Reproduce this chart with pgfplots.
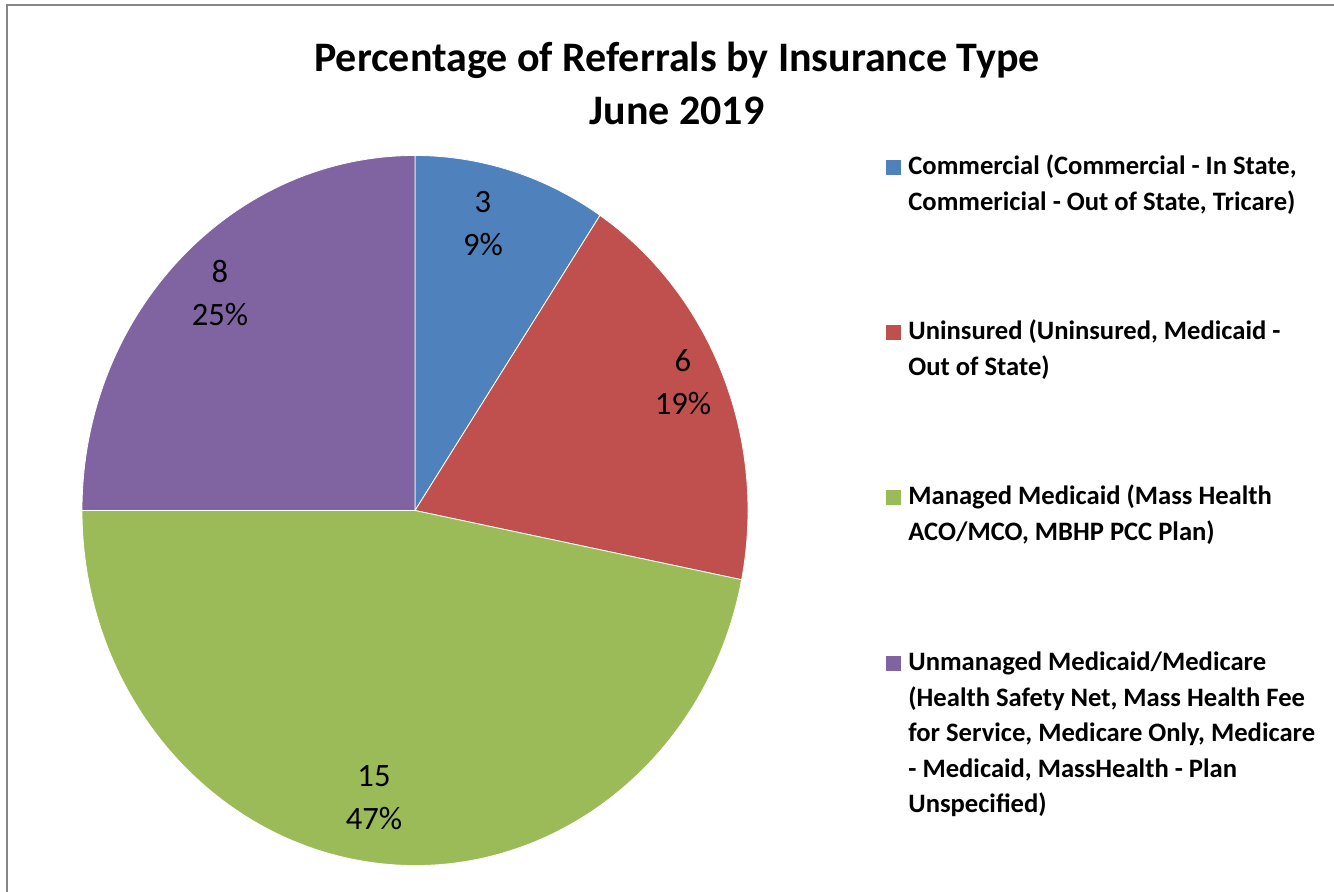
\documentclass[border=0pt]{standalone}
\usepackage{pgfplots}
\pgfplotsset{compat=1.18}
\usepackage{pgfplotstable}
\usepackage{fontspec}
\setmainfont{Carlito}

\definecolor{cblue}{RGB}{79,129,189}
\definecolor{cred}{RGB}{192,80,77}
\definecolor{cgreen}{RGB}{155,187,89}
\definecolor{cpurple}{RGB}{128,100,162}
\definecolor{framegray}{RGB}{134,134,134}

\newcommand\labelfont{\fontsize{16.3}{21.5}\selectfont}
\newcommand\legfont{\bfseries\fontsize{13.3}{17.75}\selectfont}
\newcommand\titlefont{\bfseries\fontsize{21}{25}\selectfont}

% slices clockwise from 12 o'clock; lx/ly = label centre (pixel coords)
\pgfplotstableread{
name value col lx ly
Commercial 3 cblue 483 224
Uninsured 6 cred 683 382
Managed 15 cgreen 374 798
Unmanaged 8 cpurple 220 293
}\pietable

\begin{document}
\begin{tikzpicture}
\begin{axis}[
    width=667pt, height=446pt, scale only axis,
    xmin=0, xmax=1334, ymin=0, ymax=892, y dir=reverse,
    hide axis,
]
\path (axis cs:0,0) rectangle (axis cs:1334,892);

\pgfplotstablegetrowsof{\pietable}
\pgfmathtruncatemacro\nrows{\pgfplotsretval-1}
\def\total{0}
\pgfplotsforeachungrouped \i in {0,...,\nrows}{%
  \pgfplotstablegetelem{\i}{value}\of\pietable
  \pgfmathsetmacro\total{\total+\pgfplotsretval}%
}
\def\angA{90}
\pgfplotsforeachungrouped \i in {0,...,\nrows}{%
  \pgfplotstablegetelem{\i}{value}\of\pietable \let\v\pgfplotsretval
  \pgfplotstablegetelem{\i}{col}\of\pietable \let\c\pgfplotsretval
  \pgfplotstablegetelem{\i}{lx}\of\pietable \let\lx\pgfplotsretval
  \pgfplotstablegetelem{\i}{ly}\of\pietable \let\ly\pgfplotsretval
  \pgfmathsetmacro\angB{\angA-360*\v/\total}%
  \pgfmathtruncatemacro\pct{round(100*\v/\total)}%
  \edef\slice{%
    \noexpand\fill[\c, draw=white, line width=0.4pt]
      (axis cs:415,510.5) -- ++(\angA:166.5pt and 177.5pt)
      arc[start angle=\angA, end angle=\angB, x radius=166.5pt, y radius=177.5pt] -- cycle;
    \noexpand\node[align=center, inner sep=0pt, font=\noexpand\labelfont]
      at (axis cs:\lx,\ly) {\v\noexpand\\\pct\noexpand\%};
  }%
  \slice
  \let\angA\angB
}

% title
\node[anchor=base, inner sep=0pt, font=\titlefont] at (axis cs:677,72)
  {Percentage of Referrals by Insurance Type};
\node[anchor=base, inner sep=0pt, font=\titlefont] at (axis cs:677,125)
  {June 2019};

% legend
\fill[cblue]   (axis cs:886,160) rectangle (axis cs:901,175);
\fill[cred]    (axis cs:886,325) rectangle (axis cs:901,340);
\fill[cgreen]  (axis cs:886,490) rectangle (axis cs:901,505);
\fill[cpurple] (axis cs:886,656) rectangle (axis cs:901,671);
\node[anchor=base west, inner sep=0pt] at (axis cs:908,175)
  {\parbox[t]{215pt}{\legfont Commercial (Commercial - In State,\\
   Commericial - Out of State, Tricare)}};
\node[anchor=base west, inner sep=0pt] at (axis cs:908,340)
  {\parbox[t]{215pt}{\legfont Uninsured (Uninsured, Medicaid -\\
   Out of State)}};
\node[anchor=base west, inner sep=0pt] at (axis cs:908,505)
  {\parbox[t]{215pt}{\legfont Managed Medicaid (Mass Health\\
   ACO/MCO, MBHP PCC Plan)}};
\node[anchor=base west, inner sep=0pt] at (axis cs:908,671)
  {\parbox[t]{215pt}{\legfont Unmanaged Medicaid/Medicare\\
   (Health Safety Net, Mass Health Fee\\
   for Service, Medicare Only, Medicare\\
   - Medicaid, MassHealth - Plan\\
   Unspecified)}};

% chart frame (cropped on the right and bottom)
\draw[framegray, line width=1.2pt] (axis cs:7,892) -- (axis cs:7,5) -- (axis cs:1334,5);
\end{axis}
\end{tikzpicture}
\end{document}
